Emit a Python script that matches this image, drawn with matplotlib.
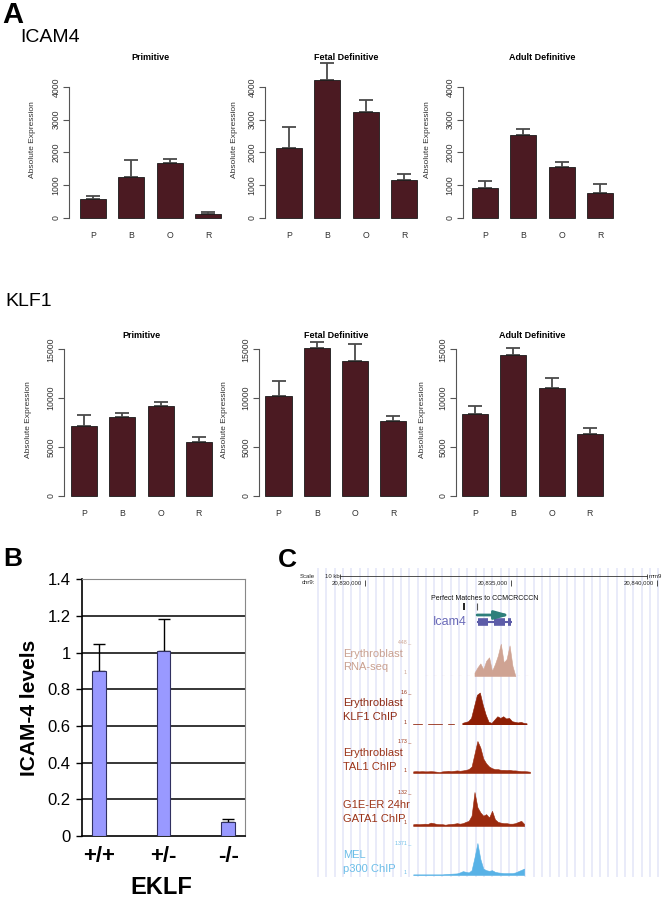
import numpy as np
import matplotlib.pyplot as plt

plt.rcParams['font.family'] = ['Liberation Sans', 'DejaVu Sans']

W, H = 666, 899

# ---------------- panel A data ----------------
cells = ['P', 'B', 'O', 'R']
stages = ['Primitive', 'Fetal Definitive', 'Adult Definitive']

icam4_mean = [[570, 1260, 1680, 110], [2130, 4200, 3250, 1160], [930, 2540, 1560, 750]]
icam4_err = [[110, 520, 130, 70], [640, 530, 360, 170], [200, 180, 150, 280]]
icam4_ticks = [0, 1000, 2000, 3000, 4000]

klf1_mean = [[7140, 8030, 9220, 5540], [10220, 15130, 13840, 7690], [8370, 14450, 11070, 6350]]
klf1_err = [[1120, 410, 440, 510], [1540, 650, 1710, 510], [790, 680, 960, 620]]
klf1_ticks = [0, 5000, 10000, 15000]

# ---------------- panel B data ----------------
genotypes = ['+/+', '+/-', '-/-']
icam4_levels = [0.90, 1.01, 0.078]
icam4_levels_err = [0.145, 0.175, 0.014]
levels_ticks = [0, 0.2, 0.4, 0.6, 0.8, 1.0, 1.2, 1.4]
levels_ticklabels = ['0', '0.2', '0.4', '0.6', '0.8', '1', '1.2', '1.4']

# ---------------- panel C data (chr9, kb) ----------------
coord_ticks = [20830, 20835, 20840]
coord_labels = ['20,830,000', '20,835,000', '20,840,000']
motif_pos = [20833.40, 20833.83]
icam4_tx = (20833.84, 20835.02)
icam4_exon_start = [20833.87, 20834.42, 20834.90]
icam4_exon_end = [20834.21, 20834.79, 20835.00]
track_bins = np.round(np.linspace(20831.65, 20835.65, 41), 2)
nan = np.nan
rna_seq = [nan] * 21 + [45, 112, 166, 90, 200, 246, 67, 157, 269, 425, 179, 224, 403, 134, 0] + [nan] * 5
klf1_chip = [0.6, 0.6, 0.6, 0.6, nan, 0.6, 0.6, 0.6, 0.6, 0.6, 0.6, nan, 0.6, 0.6, 0.6, nan, nan,
             0.8, 1.2, 1.6, 3.2, 8.8, 14.4, 15.5, 9.6, 4.8, 1.3, 0.8, 2.4, 4.0, 3.2, 4.0, 2.9, 3.2,
             1.6, 1.3, 1.0, 1.3, 0.8, 0.6, nan]
tal1_chip = [9, 10, 9, 10, 9, 9, 10, 9, 7, 5, 9, 10, 12, 10, 12, 14, 12, 14, 17, 21, 35, 104, 173,
             138, 78, 52, 35, 26, 21, 21, 17, 17, 16, 17, 14, 14, 12, 10, 10, 9, 7]
gata1_chip = [7, 8, 7, 8, 9, 8, 13, 11, 8, 7, 7, 5, 7, 8, 9, 11, 9, 11, 16, 20, 40, 132, 73, 53, 40,
              46, 33, 59, 26, 16, 13, 11, 11, 9, 9, 11, 16, 20, 8, nan, nan]
p300_chip = [27, 27, 27, 27, 27, 27, 27, 27, 27, 27, 27, 41, 48, 55, 62, 69, 110, 165, 137, 110, 206,
             754, 1371, 686, 274, 206, 178, 206, 137, 110, 96, 82, 82, 82, 82, 110, 165, 219, 274, nan, nan]

fig = plt.figure(figsize=(W / 100, H / 100), dpi=100)


def px_axes(x0, y0, x1, y1):
    return fig.add_axes([x0 / W, 1 - y1 / H, (x1 - x0) / W, (y1 - y0) / H])


def ftext(x, y, s, **kw):
    return fig.text(x / W, 1 - y / H, s, **kw)


def gx(px):
    # pixel column of the browser image -> chr9 position in kb
    return 20830 + (px - 365) / 29.2


# ---------------- panel A ----------------
def expr_panel(axis_x, c0, sp, y0, ytop, top, ticks, means, errs, title, title_y, ylab_x, ylab_y):
    ax = px_axes(axis_x, ytop, c0 + 3.5 * sp, y0)
    ax.patch.set_alpha(0)
    x = np.arange(len(cells))
    bars = ax.bar(x, means, width=0.68, color='#4B1A22', edgecolor='#1a1a1a', linewidth=0.6, zorder=2)
    for b in bars:
        b.set_clip_on(False)
    ax.errorbar(x, means, yerr=[np.zeros(len(x)), errs], fmt='none', ecolor='#4a4a4a',
                elinewidth=1.3, capsize=5, capthick=1.3, clip_on=False, zorder=1)
    ax.set_xlim(-(c0 - axis_x) / sp, 3.5)
    ax.set_ylim(0, top)
    for s in ['top', 'right', 'bottom']:
        ax.spines[s].set_visible(False)
    ax.spines['left'].set_bounds(0, top)
    ax.spines['left'].set_color('#555555')
    ax.spines['left'].set_linewidth(0.8)
    ax.set_yticks(ticks)
    ax.set_yticklabels([str(t) for t in ticks], rotation=90, va='center', fontsize=6.3, color='#333333')
    ax.tick_params(axis='y', length=4, width=0.8, color='#555555', pad=2)
    ax.set_xticks(x)
    ax.set_xticklabels(cells, fontsize=6.3, color='#333333')
    ax.tick_params(axis='x', length=0, pad=9)
    ftext(c0 + 1.5 * sp, title_y, title, ha='center', va='center', fontsize=6.5, fontweight='bold')
    ftext(ylab_x, ylab_y, 'Absolute Expression', rotation=90, ha='center', va='center',
          fontsize=6, color='#333333')


ftext(2, 23, 'A', fontsize=21, fontweight='bold', va='baseline')
ftext(20, 42, 'ICAM4', fontsize=14, va='baseline')
ftext(5, 306, 'KLF1', fontsize=14, va='baseline')

for i, st in enumerate(stages):
    expr_panel([69, 265, 463][i], [93, 289, 485][i], 38.4, 218, 87, 4000, icam4_ticks,
               icam4_mean[i], icam4_err[i], st, 57.5, [33, 235, 428][i], 140)
    expr_panel([64, 259, 456][i], [84, 278.5, 475][i], 38.3, 496, 349.3, 15000, klf1_ticks,
               klf1_mean[i], klf1_err[i], st, 335.5, [28, 224, 422][i], 420)

# ---------------- panel B ----------------
ftext(3, 566, 'B', fontsize=19, fontweight='bold', va='baseline')
axB = px_axes(81.7, 579.3, 245, 836)
xb = np.arange(len(genotypes))
axB.bar(xb, icam4_levels, width=0.21, color='#9999FF', edgecolor='#303060', linewidth=0.8, zorder=3)
axB.errorbar(xb, icam4_levels, yerr=[np.zeros(len(xb)), icam4_levels_err], fmt='none',
             ecolor='black', elinewidth=1, capsize=4, capthick=1, zorder=2)
axB.set_xlim(-0.27, 2.26)
axB.set_ylim(0, 1.4)
axB.set_yticks(levels_ticks)
axB.set_yticklabels(levels_ticklabels, fontsize=12)
axB.yaxis.grid(True, color='black', linewidth=1.1)
axB.set_axisbelow(True)
glines = axB.get_ygridlines()
glines[0].set_visible(False)
glines[-1].set_visible(False)
axB.tick_params(axis='y', length=4, width=1, pad=4)
axB.set_xticks(xb)
axB.set_xticklabels(genotypes, fontsize=16, fontweight='bold')
axB.tick_params(axis='x', length=0, pad=7)
for s in ['left', 'bottom']:
    axB.spines[s].set_linewidth(1.2)
for s in ['top', 'right']:
    axB.spines[s].set_color('#888888')
axB.set_ylabel('ICAM-4 levels', fontsize=15, fontweight='bold', labelpad=6)
ftext(161.7, 888, 'EKLF', ha='center', va='center', fontsize=17, fontweight='bold')

# ---------------- panel C ----------------
ftext(278, 567, 'C', fontsize=19, fontweight='bold', va='baseline')
axC = px_axes(315, 568, 663, 877)
axC.set_xlim(gx(315), gx(663))
axC.set_ylim(877, 568)
axC.axis('off')
for xs in np.arange(gx(318), gx(663), 8.3 / 29.2):
    axC.axvline(xs, color='#E3E6F8', lw=1.1, zorder=0)

small = dict(fontsize=4.3, color='#222222')
ftext(300, 576, 'Scale', va='center', **small)
ftext(302, 583, 'chr9:', va='center', **small)
ftext(325, 576, '10 kb', va='center', **small)
ftext(649, 577, 'mm9', va='center', **small)
axC.plot([gx(340), gx(647)], [576, 576], color='#333333', lw=0.6)
axC.vlines([gx(340), gx(647)], 573.5, 578.5, color='#333333', lw=0.6)
axC.vlines(coord_ticks, 580, 586, color='#333333', lw=0.6)
for xt, lab in zip(coord_ticks, coord_labels):
    axC.text(xt - 0.12, 583, lab, ha='right', va='center', **small)
axC.text(gx(485), 598, 'Perfect Matches to CCMCRCCCN', ha='center', va='center', fontsize=5, color='#111111')
axC.vlines(motif_pos, 603, 610, colors=['#111111', '#555555'], lw=[1.3, 0.8])
axC.annotate('', xy=(icam4_tx[1] - 0.05, 615), xytext=(icam4_tx[0], 615),
             arrowprops=dict(arrowstyle='-|>,head_length=0.9,head_width=0.25', color='#2E7F7B',
                             lw=2, mutation_scale=10, shrinkA=0, shrinkB=0))
axC.plot(icam4_tx, [622, 622], color='#5C5CA8', lw=1.5, solid_capstyle='butt')
axC.hlines([622] * len(icam4_exon_start), icam4_exon_start, icam4_exon_end, color='#5C5CA8', lw=5.5)
axC.text(gx(467), 622, 'Icam4', ha='right', va='center', fontsize=9, color='#6A6AB8')

dark = '#9B2A0E'
tracks = [
    (rna_seq, 448, 676, 642, '#CFA393', '#C9A090', ['Erythroblast', 'RNA-seq'], 654),
    (klf1_chip, 16, 725, 692, '#8E1E04', '#8E2A14', ['Erythroblast', 'KLF1 ChIP'], 703),
    (tal1_chip, 173, 773, 741, dark, '#9B3318', ['Erythroblast', 'TAL1 ChIP'], 753),
    (gata1_chip, 132, 826, 792, dark, '#9B3318', ['G1E-ER 24hr', 'GATA1 ChIP'], 805),
    (p300_chip, 1371, 875, 843, '#58B2E6', '#6BBDE8', ['MEL', 'p300 ChIP'], 855),
]
for vals, vmax, base, top, fc, tc, lines, ly in tracks:
    axt = px_axes(315, top, 663, base)
    axt.set_xlim(gx(315), gx(663))
    axt.set_ylim(0, vmax)
    axt.axis('off')
    axt.fill_between(track_bins, 0, np.array(vals, dtype=float), color=fc, lw=0.4, edgecolor=fc)
    if vals is rna_seq:
        axt.plot([track_bins[4], track_bins[40]], [0, 0], color=fc, lw=0.8, ls=(0, (2.5, 5)))
    ftext(343, ly, lines[0], fontsize=8, color=tc, va='center')
    ftext(343, ly + 13.5, lines[1], fontsize=8, color=tc, va='center')
    ftext(411, top, f'{vmax} _', fontsize=3.8, color=tc, ha='right', va='center')
    ftext(407, base - 3, '1', fontsize=3.8, color=tc, ha='right', va='center')

fig.savefig('out.png', dpi=100)
